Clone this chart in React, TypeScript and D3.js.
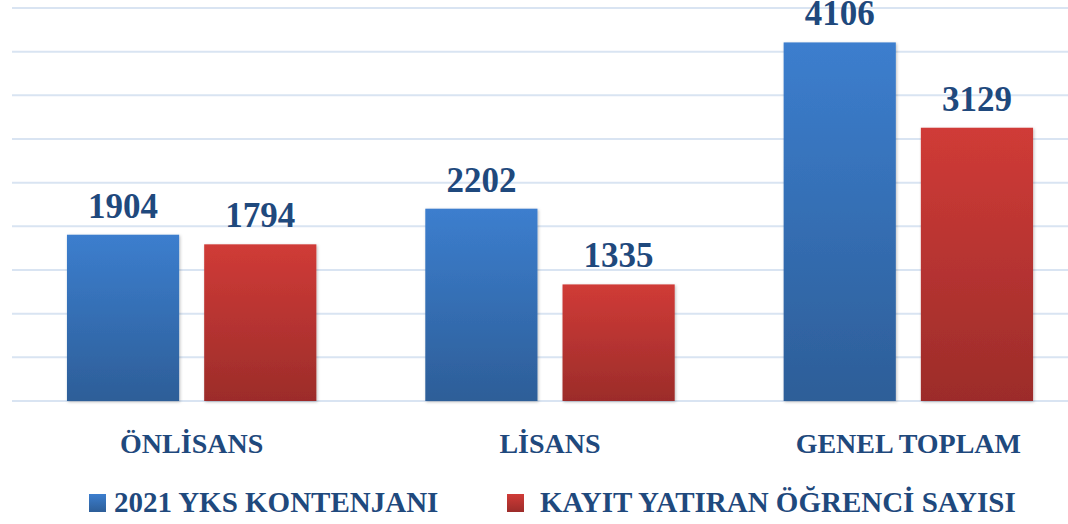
import * as d3 from 'd3';

const categories = ['ÖNLİSANS', 'LİSANS', 'GENEL TOPLAM'];
const seriesNames = ['2021 YKS KONTENJANI', 'KAYIT YATIRAN ÖĞRENCİ SAYISI'];
const kontenjan = [1904, 2202, 4106];
const kayit = [1794, 1335, 3129];
const yTicks = d3.range(0, 4501, 500);

const W = 1068;
const H = 524;
const textColor = '#1F497D';
const font = '"Liberation Serif", serif';

// legend placement: swatch x, text x
const legendPos = [
  [89, 114],
  [507, 540],
];

export default function App() {
  const x0 = d3
    .scaleBand<string>()
    .domain(categories)
    .range([12.5, 1087.5])
    .paddingInner(0.304)
    .paddingOuter(0.152);
  const x1 = d3
    .scaleBand<number>()
    .domain([0, 1])
    .range([0, x0.bandwidth()])
    .paddingInner(0.1825);
  const y = d3.scaleLinear().domain([0, 4500]).range([401, 8]);

  const series = [kontenjan, kayit];
  const grads = ['gBlue', 'gRed'];

  return (
    <svg width={W} height={H} style={{ position: 'absolute', left: 0, top: 0, background: '#fff' }}>
      <defs>
        <linearGradient id="gBlue" x1="0" y1="0" x2="0" y2="1">
          <stop offset="0" stopColor="#3C7ECE" />
          <stop offset="1" stopColor="#2D5E98" />
        </linearGradient>
        <linearGradient id="gRed" x1="0" y1="0" x2="0" y2="1">
          <stop offset="0" stopColor="#D03B37" />
          <stop offset="1" stopColor="#9C2C2A" />
        </linearGradient>
        <filter id="shadow" x="-10%" y="-10%" width="120%" height="120%">
          <feDropShadow dx="1" dy="1" stdDeviation="1.5" floodColor="#000" floodOpacity="0.25" />
        </filter>
      </defs>

      {yTicks.map((t) => (
        <line key={t} x1={12} x2={W} y1={y(t)} y2={y(t)} stroke="#D9E4F2" strokeWidth={2} />
      ))}

      {categories.map((c, ci) => (
        <g key={c} transform={`translate(${x0(c)},0)`}>
          {series.map((vals, si) => {
            const v = vals[ci];
            const bx = x1(si) ?? 0;
            return (
              <g key={si}>
                <rect
                  x={bx}
                  y={y(v)}
                  width={x1.bandwidth()}
                  height={y(0) - y(v)}
                  fill={`url(#${grads[si]})`}
                  filter="url(#shadow)"
                />
                <text
                  x={bx + x1.bandwidth() / 2}
                  y={y(v) - 17}
                  textAnchor="middle"
                  fontFamily={font}
                  fontWeight="bold"
                  fontSize={35}
                  fill={textColor}
                >
                  {v}
                </text>
              </g>
            );
          })}
          <text
            x={x0.bandwidth() / 2}
            y={453}
            textAnchor="middle"
            fontFamily={font}
            fontWeight="bold"
            fontSize={28}
            fill={textColor}
          >
            {c}
          </text>
        </g>
      ))}

      {seriesNames.map((s, si) => {
        const [sx, tx] = legendPos[si];
        return (
          <g key={s}>
            <rect x={sx} y={494} width={17} height={18} fill={`url(#${grads[si]})`} />
            <text x={tx} y={512} fontFamily={font} fontWeight="bold" fontSize={29} fill={textColor}>
              {s}
            </text>
          </g>
        );
      })}
    </svg>
  );
}
